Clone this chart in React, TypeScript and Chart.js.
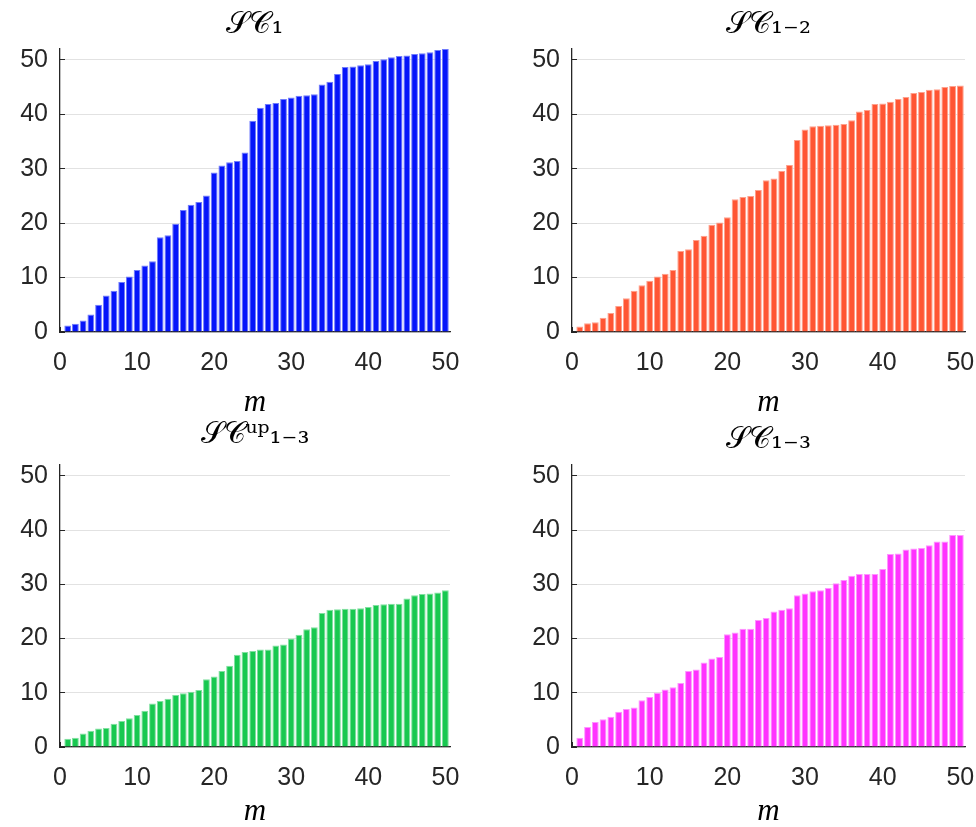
import React, { useEffect, useRef } from "react";
import { Chart, registerables } from "chart.js";

Chart.register(...registerables);

// ---- data ----
const mValues = [
  1, 2, 3, 4, 5, 6, 7, 8, 9, 10, 11, 12, 13, 14, 15, 16, 17, 18, 19, 20, 21, 22, 23, 24, 25,
  26, 27, 28, 29, 30, 31, 32, 33, 34, 35, 36, 37, 38, 39, 40, 41, 42, 43, 44, 45, 46, 47, 48, 49, 50,
];

const sc1 = [
  1.2, 1.5, 2.1, 3.2, 5.0, 6.7, 7.6, 9.2, 10.2, 11.4, 12.2, 13.0, 17.4, 17.8, 19.9, 22.4, 23.4, 23.9, 25.1, 29.3,
  30.6, 31.2, 31.4, 33.0, 38.8, 41.2, 41.9, 42.1, 42.8, 43.1, 43.4, 43.5, 43.7, 45.5, 46.0, 47.4, 48.7, 48.8, 49.0, 49.2,
  49.8, 50.1, 50.5, 50.7, 50.8, 51.1, 51.2, 51.4, 51.8, 52.0,
];

const sc12 = [
  1.0, 1.6, 1.8, 2.6, 3.5, 4.8, 6.2, 7.6, 8.6, 9.4, 10.2, 10.7, 11.4, 14.9, 15.2, 16.9, 17.7, 19.7, 20.1, 21.1,
  24.4, 24.8, 25.0, 26.1, 27.9, 28.2, 29.6, 30.7, 35.3, 37.2, 37.8, 37.9, 38.0, 38.1, 38.2, 38.9, 40.5, 40.8, 41.9, 42.0,
  42.3, 42.8, 43.2, 43.9, 44.1, 44.5, 44.6, 45.0, 45.2, 45.3,
];

const sc13up = [
  1.5, 1.7, 2.5, 3.0, 3.4, 3.5, 4.3, 4.8, 5.3, 5.9, 6.7, 8.0, 8.5, 8.9, 9.6, 9.9, 10.2, 10.5, 12.5, 13.0,
  14.0, 15.0, 17.0, 17.5, 17.7, 18.0, 18.0, 18.7, 18.9, 20.0, 20.7, 21.7, 22.1, 24.7, 25.3, 25.4, 25.5, 25.5, 25.6, 25.8,
  26.2, 26.3, 26.4, 26.4, 27.4, 28.0, 28.2, 28.3, 28.5, 28.9,
];

const sc13 = [
  1.7, 3.7, 4.6, 5.1, 5.6, 6.5, 7.0, 7.3, 8.6, 9.2, 10.0, 10.6, 11.0, 11.8, 14.0, 14.3, 15.6, 16.3, 16.6, 20.8,
  21.1, 21.8, 21.8, 23.4, 23.8, 25.0, 25.3, 25.6, 28.0, 28.3, 28.7, 28.9, 29.3, 30.2, 30.8, 31.6, 31.9, 31.9, 31.9, 32.8,
  35.6, 35.7, 36.4, 36.6, 36.7, 37.2, 37.9, 37.9, 39.1, 39.1,
];

const xTickValues = [0, 10, 20, 30, 40, 50];
const yTickValues = [0, 10, 20, 30, 40, 50];

const titles = ["𝒮𝒞₁", "𝒮𝒞₁₋₂", "𝒮𝒞ᵘᵖ₁₋₃", "𝒮𝒞₁₋₃"];
const xLabel = "m";

const AXIS = "#262626";
const GRID = "#e2e2e2";
const TICK_FONT = { family: "'Liberation Sans', Arial, sans-serif", size: 25 };

type PanelProps = {
  left: number;
  top: number;
  width: number;
  height: number;
  values: number[];
  color: string;
  edge: string;
  title: string;
  padRight: number;
  titleTop: number;
  titleBottom: number;
  xAxisHeight: number;
  xTitleBottom: number;
};

function Panel(p: PanelProps) {
  const ref = useRef<HTMLCanvasElement>(null);
  useEffect(() => {
    if (!ref.current) return;
    const chart = new Chart(ref.current, {
      type: "bar",
      data: {
        datasets: [
          {
            data: mValues.map((m, i) => ({ x: m, y: p.values[i] })),
            backgroundColor: p.color,
            borderColor: p.edge,
            borderWidth: 1,
            barPercentage: 0.88,
            categoryPercentage: 1,
          },
        ],
      },
      options: {
        responsive: false,
        maintainAspectRatio: false,
        animation: false,
        layout: { padding: { left: 0, right: p.padRight, top: 0, bottom: 0 } },
        plugins: {
          legend: { display: false },
          tooltip: { enabled: false },
          title: {
            display: true,
            text: p.title,
            fullSize: false,
            color: "#000",
            font: { family: "'DejaVu Serif', 'Liberation Serif', serif", size: 30, weight: "normal", lineHeight: 1.2 },
            padding: { top: p.titleTop, bottom: p.titleBottom },
          },
        },
        scales: {
          x: {
            type: "linear",
            min: 0,
            max: 50.6,
            offset: false,
            grid: {
              offset: false,
              drawOnChartArea: false,
              drawTicks: true,
              tickLength: -5,
              tickColor: AXIS,
              tickWidth: 1,
            },
            border: { color: AXIS, width: 1.3 },
            ticks: { font: TICK_FONT, color: AXIS, padding: 21, maxRotation: 0 },
            afterBuildTicks: (s: any) => {
              s.ticks = xTickValues.map((v) => ({ value: v }));
            },
            afterFit: (s: any) => {
              s.height = p.xAxisHeight;
              s.paddingLeft = 0;
              s.paddingRight = 0;
            },
            title: {
              display: true,
              text: xLabel,
              color: "#000",
              font: { family: "'Liberation Serif', serif", style: "italic", size: 31, lineHeight: 1 },
              padding: { top: 0, bottom: p.xTitleBottom },
            },
          },
          y: {
            type: "linear",
            min: 0,
            max: 52,
            grid: {
              color: GRID,
              lineWidth: 1,
              drawTicks: true,
              tickLength: -5,
              tickColor: AXIS,
              tickWidth: 1,
            },
            border: { color: AXIS, width: 1.3 },
            ticks: { font: TICK_FONT, color: AXIS, padding: 17 },
            afterBuildTicks: (s: any) => {
              s.ticks = yTickValues.map((v) => ({ value: v }));
            },
            afterFit: (s: any) => {
              s.width = 60;
              s.paddingTop = 0;
              s.paddingBottom = 0;
            },
          },
        },
      },
    } as any);
    return () => chart.destroy();
  }, []);
  return (
    <canvas
      ref={ref}
      width={p.width}
      height={p.height}
      style={{ position: "absolute", left: p.left, top: p.top, width: p.width, height: p.height }}
    />
  );
}

export default function App() {
  return (
    <div style={{ position: "absolute", left: 0, top: 0, width: 976, height: 827, background: "#fff", overflow: "hidden" }}>
      <Panel left={0} top={0} width={488} height={420} values={sc1} color="#0515FA" edge="#6F7BFC"
        title={titles[0]} padRight={38} titleTop={7} titleBottom={6} xAxisHeight={88} xTitleBottom={2} />
      <Panel left={512} top={0} width={464} height={420} values={sc12} color="#FF5533" edge="#FFA08C"
        title={titles[1]} padRight={11} titleTop={7} titleBottom={6} xAxisHeight={88} xTitleBottom={2} />
      <Panel left={0} top={407} width={488} height={420} values={sc13up} color="#18C850" edge="#80E0A0"
        title={titles[2]} padRight={38} titleTop={10} titleBottom={12} xAxisHeight={80} xTitleBottom={0} />
      <Panel left={512} top={407} width={464} height={420} values={sc13} color="#FF33FF" edge="#FF94FF"
        title={titles[3]} padRight={11} titleTop={15} titleBottom={7} xAxisHeight={80} xTitleBottom={0} />
    </div>
  );
}
